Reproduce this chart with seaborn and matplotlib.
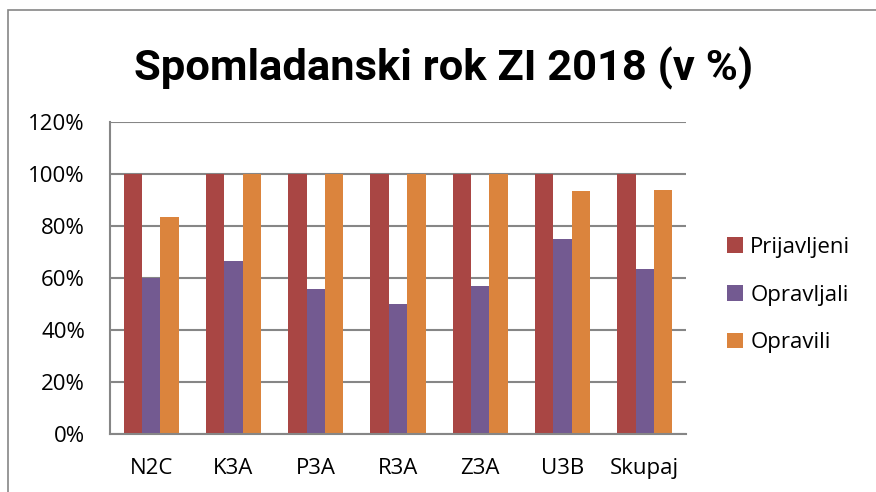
import matplotlib
matplotlib.use("Agg")
import matplotlib.pyplot as plt
import seaborn as sns
import pandas as pd
from matplotlib.patches import Rectangle
from matplotlib.ticker import FuncFormatter, MultipleLocator

categories = ["N2C", "K3A", "P3A", "R3A", "Z3A", "U3B", "Skupaj"]
series_names = ["Prijavljeni", "Opravljali", "Opravili"]
prijavljeni = [100, 100, 100, 100, 100, 100, 100]
opravljali = [60.0, 66.7, 55.6, 50.0, 57.1, 75.0, 63.6]
opravili = [83.3, 100, 100, 100, 100, 93.3, 94.0]
colors = ["#A94644", "#735A91", "#DB843D"]
title = "Spomladanski rok ZI 2018 (v %)"

rows = []
for name, vals in zip(series_names, [prijavljeni, opravljali, opravili]):
    for c, v in zip(categories, vals):
        rows.append({"cat": c, "series": name, "val": v})
df = pd.DataFrame(rows)

sns.set_theme(style="white")
plt.rcParams["font.family"] = ["Open Sans", "DejaVu Sans"]
plt.rcParams["text.color"] = "black"

fig = plt.figure(figsize=(8.76, 4.92), dpi=100)
ax = fig.add_axes([110/876, 58/492, 576/876, 312/492])

sns.barplot(data=df, x="cat", y="val", hue="series", palette=colors,
            width=0.67, saturation=1, ax=ax, legend=True, linewidth=0)

ax.set_ylim(0, 120)
ax.yaxis.set_major_locator(MultipleLocator(20))
ax.yaxis.set_major_formatter(FuncFormatter(lambda v, p: f"{int(v)}%"))
ax.set_xlim(-0.5, len(categories) - 0.5)
ax.set_xlabel("")
ax.set_ylabel("")
ax.set_axisbelow(True)
ax.grid(axis="y", color="#868686", linewidth=1.5)
for s in ["top", "right"]:
    ax.spines[s].set_visible(False)
for s in ["left", "bottom"]:
    ax.spines[s].set_color("#868686")
    ax.spines[s].set_linewidth(1.5)
ax.tick_params(axis="y", labelsize=16, pad=18, length=0, labelcolor="black")
ax.tick_params(axis="x", labelsize=16, pad=17, length=0, labelcolor="black")

handles, labels = ax.get_legend_handles_labels()
leg = ax.legend(handles, labels, loc="center left", bbox_to_anchor=(727/876, 1 - 295/492),
                bbox_transform=fig.transFigure, frameon=False, fontsize=16,
                handlelength=0.7, handleheight=0.7, handletextpad=0.35, labelspacing=1.2,
                borderaxespad=0, borderpad=0)
for t in leg.get_texts():
    t.set_color("black")

fig.text(444/876, 1 - 80/492, title, ha="center", va="baseline",
         fontsize=31.3, fontweight="bold", color="black",
         family=["Roboto", "Open Sans", "DejaVu Sans"])

fig.patches.append(Rectangle((8/876, -0.1), 1.2, (492 - 10)/492 + 0.1,
                             transform=fig.transFigure, fill=False,
                             edgecolor="#868686", linewidth=1.2))

fig.savefig("out.png", dpi=100)
